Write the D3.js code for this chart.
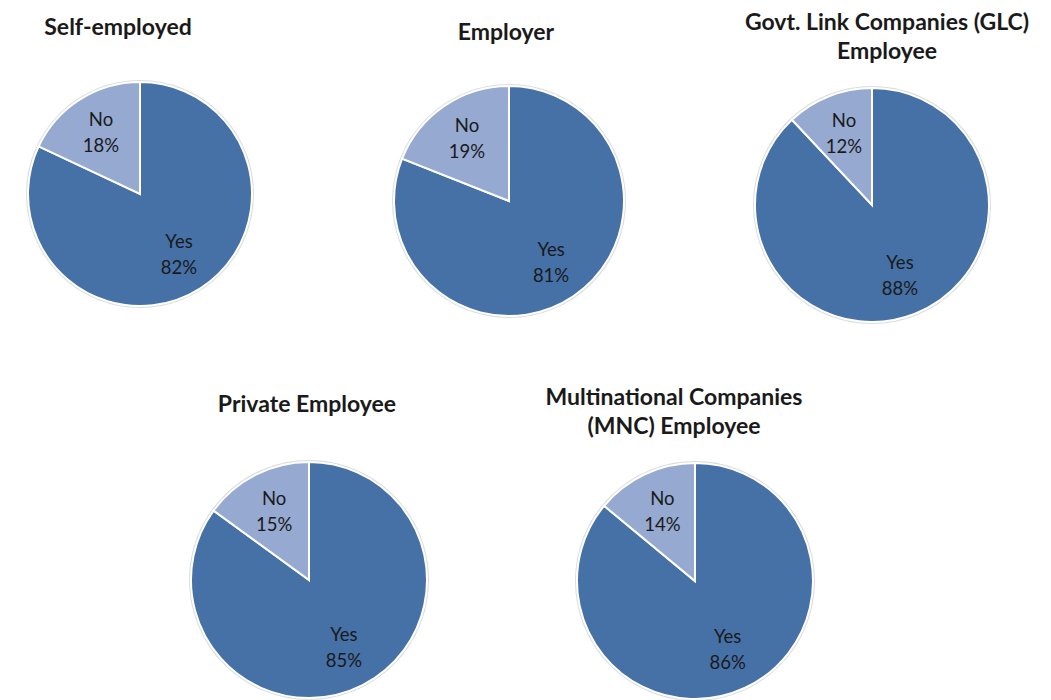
<!DOCTYPE html>
<html>
<head>
<meta charset="utf-8">
<script src="https://cdn.jsdelivr.net/npm/d3@7"></script>
<style>
  body { margin: 0; background: #fff; }
  text { font-family: Lato, "Open Sans", sans-serif; fill: #1a1a1a; }
</style>
</head>
<body>
<svg id="chart" width="1051" height="700"></svg>
<script>
/* Data */
const titles = [
    ["Self-employed"],
    ["Employer"],
    ["Govt. Link Companies (GLC)", "Employee"],
    ["Private Employee"],
    ["Multinational Companies", "(MNC) Employee"]
];
const categories = ["Yes", "No"];
const yesValues = [82, 81, 88, 85, 86];
const noValues = [18, 19, 12, 15, 14];

/* Where each pie sits on the page */
const layout = [
    {cx: 140, cy: 194, r: 112, tx: 118, ty: 35},
    {cx: 509, cy: 201, r: 115, tx: 506, ty: 40},
    {cx: 872, cy: 205, r: 117, tx: 887, ty: 30},
    {cx: 309, cy: 580, r: 118, tx: 307, ty: 412},
    {cx: 695, cy: 581, r: 118, tx: 674, ty: 405}
];

const color = d3.scaleOrdinal()
    .domain(categories)
    .range(["#4571a7", "#95a9d1"]);

const svg = d3.select('#chart');

const pie = d3.pie()
    .sort(null)
    .value(d => d.value);

titles.forEach(function(title, i) {
    let L = layout[i];
    let data = [
        {name: "Yes", value: yesValues[i]},
        {name: "No", value: noValues[i]}
    ];
    let arc = d3.arc().innerRadius(0).outerRadius(L.r);
    let labelArc = d3.arc().innerRadius(L.r * 0.65).outerRadius(L.r * 0.65);

    let g = svg.append('g')
        .attr('transform', `translate(${L.cx},${L.cy})`);

    // faint rim round the pie
    g.append('circle')
        .attr('r', L.r + 1)
        .attr('fill', 'none')
        .attr('stroke', '#dcdcdc')
        .attr('stroke-width', 2);

    g.selectAll('path')
        .data(pie(data))
        .join('path')
        .attr('d', arc)
        .attr('fill', d => color(d.data.name))
        .attr('stroke', '#fff')
        .attr('stroke-width', 2);

    let labels = g.selectAll('text.label')
        .data(pie(data))
        .join('text')
        .attr('class', 'label')
        .attr('text-anchor', 'middle')
        .attr('transform', d => `translate(${labelArc.centroid(d)})`)
        .style('font-size', '18.5px');
    labels.append('tspan')
        .attr('x', 0)
        .attr('y', -7)
        .text(d => d.data.name);
    labels.append('tspan')
        .attr('x', 0)
        .attr('y', 19)
        .text(d => d.data.value + '%');

    // chart title, one or two lines
    let t = svg.append('text')
        .attr('text-anchor', 'middle')
        .style('font-size', '23px')
        .style('font-weight', 'bold');
    title.forEach(function(line, k) {
        t.append('tspan')
            .attr('x', L.tx)
            .attr('y', L.ty + k * 29)
            .text(line);
    });
});
</script>
</body>
</html>
